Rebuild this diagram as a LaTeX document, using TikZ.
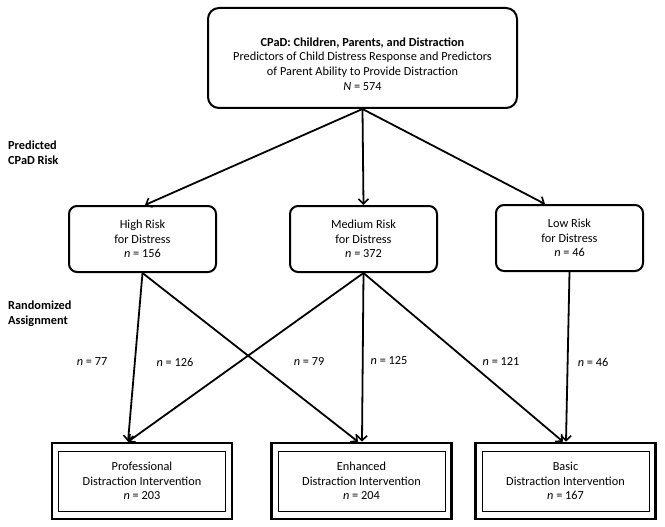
\documentclass[tikz,border=0pt]{standalone}
\usepackage{fontspec}
\setmainfont{Carlito}
\usetikzlibrary{arrows.meta,calc}
\begin{document}
\begin{tikzpicture}[x=1pt,y=-1pt,
  every node/.style={font=\fontsize{12.3}{14.6}\selectfont, align=center, inner sep=0pt},
  topbox/.style={draw, line width=2pt, rounded corners=11pt, minimum width=309pt, minimum height=100pt},
  riskbox/.style={draw, line width=2pt, rounded corners=8pt, minimum width=147pt, minimum height=66pt},
  outerbox/.style={draw, line width=2.6pt, minimum width=180pt, minimum height=76pt},
  innerbox/.style={draw, line width=0.7pt, minimum width=167pt, minimum height=60pt},
  conn/.style={line width=1.8pt, -{Straight Barb[length=5pt,width=10pt,line width=1.6pt]}},
  sidelabel/.style={anchor=west, font=\fontsize{12.3}{14.6}\selectfont\bfseries, align=left},
  nlabel/.style={font=\fontsize{12.3}{14}\selectfont}
]
\useasboundingbox (0,0) rectangle (665,527);

\node[topbox] (top) at (362.5,58) {};
\node (toptext) at (362.5,64) {\textbf{CPaD: Children, Parents, and Distraction}\\Predictors of Child Distress Response and Predictors\\of Parent Ability to Provide Distraction\\\textit{N} = 574};

\node[riskbox] (high) at (142.5,239) {High Risk\\for Distress\\\textit{n} = 156};
\node[riskbox] (med) at (363.5,239) {Medium Risk\\for Distress\\\textit{n} = 372};
\node[riskbox] (low) at (569.5,238) {Low Risk\\for Distress\\\textit{n} = 46};

\node[outerbox] (prof) at (142,481) {};
\node[innerbox] (profin) at (142,481) {Professional\\Distraction Intervention\\\textit{n} = 203};
\node[outerbox] (enh) at (361.5,481) {};
\node[innerbox] (enhin) at (361.5,481) {Enhanced\\Distraction Intervention\\\textit{n} = 204};
\node[outerbox] (basic) at (565.5,481) {};
\node[innerbox] (basicin) at (565.5,481) {Basic\\Distraction Intervention\\\textit{n} = 167};

\node[sidelabel] (lab1) at (8,153) {Predicted\\CPaD Risk};
\node[sidelabel] (lab2) at (8,314) {Randomized\\Assignment};

\draw[conn] (top.south) -- ([xshift=2.5pt]high.north);
\draw[conn] (top.south) -- (med.north);
\draw[conn] (top.south) -- ([xshift=-24.5pt]low.north);

\draw[conn] (high.south) -- ([xshift=-14pt]prof.north);
\draw[conn] (high.south) -- ([xshift=-3.5pt]enh.north);
\draw[conn] (med.south) -- ([xshift=-14pt]prof.north);
\draw[conn] (med.south) -- ([xshift=0.5pt]enh.north);
\draw[conn] (med.south) -- ([xshift=-2.5pt]basic.north);
\draw[conn] (low.south) -- ([xshift=0.5pt]basic.north);

\node[nlabel] (n1) at (92,362) {\textit{n} = 77};
\node[nlabel] (n2) at (175,362) {\textit{n} = 126};
\node[nlabel] (n3) at (309,362) {\textit{n} = 79};
\node[nlabel] (n4) at (389,361) {\textit{n} = 125};
\node[nlabel] (n5) at (501,362) {\textit{n} = 121};
\node[nlabel] (n6) at (593,362) {\textit{n} = 46};
\end{tikzpicture}
\end{document}
